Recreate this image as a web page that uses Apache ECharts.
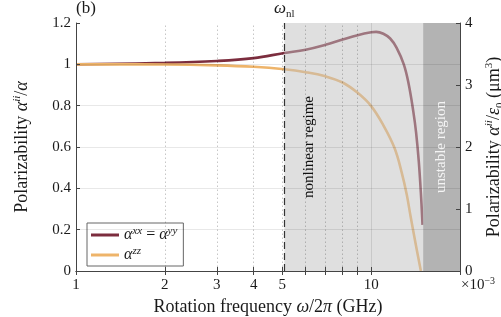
<!DOCTYPE html>
<html>
<head>
<meta charset="utf-8">
<script src="https://cdn.jsdelivr.net/npm/echarts@6/dist/echarts.min.js"></script>
<style>
html,body{margin:0;padding:0;background:#fff;}
#c{width:501px;height:317px;}
</style>
</head>
<body>
<div id="c"></div>
<script>
// ---- data ----
const freqXX  = [1, 2, 3, 4, 5.08, 6, 7, 8, 9, 10, 10.4, 11, 11.6, 12.2, 12.9, 13.4, 13.9, 14.2, 14.5, 14.75, 14.93];
const alphaXX = [1.0, 1.007, 1.016, 1.03, 1.055, 1.071, 1.095, 1.12, 1.141, 1.155, 1.157, 1.148, 1.125, 1.08, 1.0, 0.905, 0.77, 0.67, 0.53, 0.37, 0.223];
const freqZZ  = [1, 2, 3, 4, 5.08, 6, 7, 8, 9, 10, 11, 12, 12.7, 13.2, 13.6, 14.2, 14.74];
const alphaZZ = [1.0, 0.999, 0.995, 0.988, 0.976, 0.962, 0.942, 0.912, 0.862, 0.798, 0.705, 0.595, 0.475, 0.37, 0.265, 0.12, 0.0];
const omegaNL = 5.08;
const unstableStart = 15;
const xMin = 1, xMax = 20;
const xTickLabels = [1, 2, 3, 4, 5, 10];
const xTickMarks = [1, 2, 3, 4, 5, 6, 7, 8, 9, 10, 20];
const xGridDotted = [2, 3, 4, 5, 6, 7, 8, 9];
const xGridSolid = [10];
const yLeftGrid = [0.2, 0.4, 0.6, 0.8, 1.0];
const yLeftMin = 0, yLeftMax = 1.2, yLeftStep = 0.2;
const yRightMin = 0, yRightMax = 4, yRightStep = 1;
const nameXX = 'xx', nameZZ = 'zz';

const FF = 'Liberation Serif';
const TXT = '#1a1a1a';
const AX = '#444';
const richMath = {
  i: {fontFamily: FF, fontStyle: 'italic', fontSize: 18, color: TXT},
  s: {fontFamily: FF, fontStyle: 'italic', fontSize: 11, color: TXT, verticalAlign: 'top', lineHeight: 20},
  n: {fontFamily: FF, fontSize: 11, color: TXT, verticalAlign: 'top', lineHeight: 20},
  b: {fontFamily: FF, fontSize: 11, color: TXT, verticalAlign: 'bottom', lineHeight: 22}
};

const chart = echarts.init(document.getElementById('c'), null, {renderer: 'canvas'});

const axisCommon = {
  axisLine: {show: true, lineStyle: {color: AX, width: 1}},
  splitLine: {show: false},
  z: 10
};

const option = {
  animation: false,
  backgroundColor: '#fff',
  grid: {left: 76, right: 41, top: 23, bottom: 46, containLabel: false, outerBoundsMode: 'none'},
  legend: {
    show: true,
    data: [nameXX, nameZZ],
    orient: 'vertical',
    left: 87, top: 223,
    itemWidth: 28, itemHeight: 3, itemGap: 3,
    padding: [3, 6, 3, 4],
    backgroundColor: '#fff',
    borderColor: '#666', borderWidth: 1,
    borderRadius: 0,
    icon: 'rect',
    formatter: function (n) {
      return n === nameXX ? '{i|α}{s|xx} = {i|α}{s|yy}' : '{i|α}{s|zz}';
    },
    textStyle: {
      fontFamily: FF, fontSize: 16, color: TXT,
      rich: {
        i: {fontFamily: FF, fontStyle: 'italic', fontSize: 16, color: TXT},
        s: {fontFamily: FF, fontStyle: 'italic', fontSize: 11, color: TXT, verticalAlign: 'top', lineHeight: 18}
      }
    }
  },
  xAxis: [
    Object.assign({}, axisCommon, {
      type: 'log', logBase: 10, min: xMin, max: xMax, position: 'bottom',
      axisTick: {show: true, inside: true, length: 4, customValues: xTickMarks, lineStyle: {color: AX}},
      axisLabel: {customValues: xTickLabels, margin: 7, fontFamily: FF, fontSize: 15, color: TXT},
      name: 'Rotation frequency {i|ω}/2{i|π} (GHz)',
      nameLocation: 'middle', nameGap: 22,
      nameTextStyle: {fontFamily: FF, fontSize: 18, color: TXT, rich: richMath}
    }),
    Object.assign({}, axisCommon, {
      type: 'log', logBase: 10, min: xMin, max: xMax, position: 'top',
      axisTick: {show: true, inside: true, length: 4, customValues: xTickMarks, lineStyle: {color: AX}},
      axisLabel: {show: false}
    })
  ],
  yAxis: [
    Object.assign({}, axisCommon, {
      type: 'value', min: yLeftMin, max: yLeftMax, interval: yLeftStep, position: 'left',
      axisTick: {show: true, inside: true, length: 4, lineStyle: {color: AX}},
      axisLabel: {margin: 5, fontFamily: FF, fontSize: 15, color: TXT},
      name: 'Polarizability {i|α}{s|ii}/{i|α}',
      nameLocation: 'middle', nameGap: 44, nameRotate: 90,
      nameTextStyle: {fontFamily: FF, fontSize: 18, color: TXT, rich: richMath}
    }),
    Object.assign({}, axisCommon, {
      type: 'value', min: yRightMin, max: yRightMax, interval: yRightStep, position: 'right',
      axisTick: {show: true, inside: true, length: 4, lineStyle: {color: AX}},
      axisLabel: {margin: 5, fontFamily: FF, fontSize: 15, color: TXT},
      name: 'Polarizability {i|α}{s|ii}/{i|ε}{b|0} (μm{n|3})',
      nameLocation: 'middle', nameGap: 13, nameRotate: 90,
      nameTextStyle: {fontFamily: FF, fontSize: 18, color: TXT, rich: richMath}
    })
  ],
  series: [
    {
      name: nameXX, type: 'line', xAxisIndex: 0, yAxisIndex: 0, z: 2,
      data: freqXX.map((f, k) => [f, alphaXX[k]]),
      symbol: 'none', smooth: 0.4,
      lineStyle: {color: '#7c2d3e', width: 2.6},
      itemStyle: {color: '#7c2d3e'}
    },
    {
      name: nameZZ, type: 'line', xAxisIndex: 0, yAxisIndex: 0, z: 2,
      data: freqZZ.map((f, k) => [f, alphaZZ[k]]),
      symbol: 'none', smooth: 0.4,
      lineStyle: {color: '#eeb46a', width: 2.6},
      itemStyle: {color: '#eeb46a'}
    },
    {
      name: 'regions', type: 'line', xAxisIndex: 0, yAxisIndex: 0, z: 3, data: [],
      markArea: {
        silent: true, z: 3,
        data: [
          [{xAxis: omegaNL, itemStyle: {color: 'rgba(192,192,192,0.5)'}}, {xAxis: unstableStart}],
          [{xAxis: unstableStart, itemStyle: {color: '#b3b3b3'}}, {xAxis: xMax}]
        ]
      }
    },
    {
      name: 'grid', type: 'line', xAxisIndex: 0, yAxisIndex: 0, z: 4, data: [],
      markLine: {
        silent: true, z: 4, symbol: ['none', 'none'], label: {show: false},
        data: [].concat(
          xGridDotted.map(v => ({xAxis: v, lineStyle: {type: [1.5, 2.5], color: 'rgba(0,0,0,0.22)', width: 1}})),
          xGridSolid.map(v => ({xAxis: v, lineStyle: {type: 'solid', color: 'rgba(0,0,0,0.1)', width: 1}})),
          yLeftGrid.map(v => ({yAxis: v, lineStyle: {type: 'solid', color: 'rgba(0,0,0,0.09)', width: 1}}))
        )
      }
    },
    {
      name: 'wnl', type: 'line', xAxisIndex: 0, yAxisIndex: 0, z: 5, data: [],
      markLine: {
        silent: true, z: 5, symbol: ['none', 'none'],
        data: [{
          xAxis: omegaNL,
          lineStyle: {type: [7, 4], color: '#333', width: 1.2},
          label: {
            show: true, position: 'end', distance: 3,
            formatter: '{i|ω}{b|nl}',
            rich: {
              i: {fontFamily: FF, fontStyle: 'italic', fontSize: 17, color: TXT},
              b: {fontFamily: FF, fontSize: 11, color: TXT, verticalAlign: 'bottom', lineHeight: 22}
            }
          }
        }]
      }
    }
  ],
  graphic: [
    {type: 'text', left: 76, top: 0, z: 20, style: {text: '(b)', font: '17px "Liberation Serif"', fill: TXT}},
    {type: 'text', x: 309, y: 147, rotation: Math.PI / 2, z: 20,
     style: {text: 'nonlinear regime', font: '15px "Liberation Serif"', fill: '#111', align: 'center', verticalAlign: 'middle'}},
    {type: 'text', x: 441, y: 147, rotation: Math.PI / 2, z: 20,
     style: {text: 'unstable region', font: '15px "Liberation Serif"', fill: '#f4f4f4', align: 'center', verticalAlign: 'middle'}},
    {type: 'text', x: 461, y: 276, z: 20,
     style: {text: '×10{s|−3}', font: '15px "Liberation Serif"', fill: TXT,
             rich: {s: {fontFamily: FF, fontSize: 10, fill: TXT, verticalAlign: 'top', lineHeight: 18}}}}
  ]
};
chart.setOption(option);
</script>
</body>
</html>
